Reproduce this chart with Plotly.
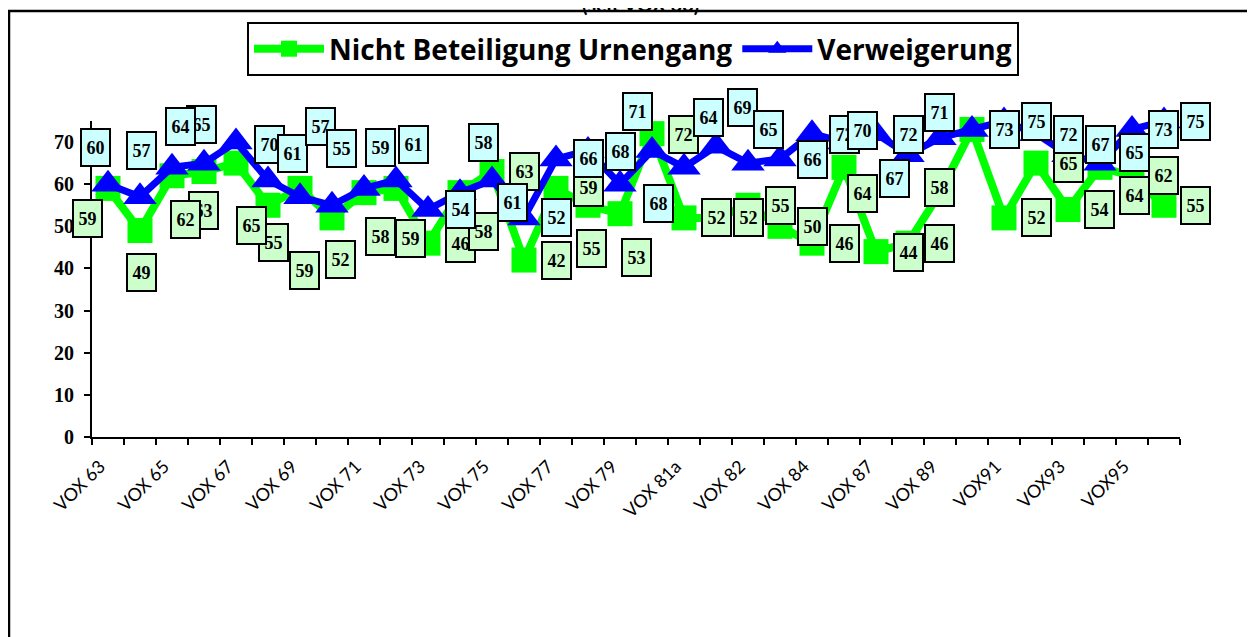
import plotly.graph_objects as go

# ---------------- data ----------------
TICK_LABELS = ["VOX 63", "VOX 65", "VOX 67", "VOX 69", "VOX 71", "VOX 73", "VOX 75",
               "VOX 77", "VOX 79", "VOX 81a", "VOX 82", "VOX 84", "VOX 87", "VOX 89",
               "VOX91", "VOX93", "VOX95"]
N_CATS = 34

GREEN_NAME = "Nicht Beteiligung Urnengang"
BLUE_NAME = "Verweigerung"

GREEN_VALUES = [59, 49, 62, 63, 65, 55, 59, 52, 58, 59, 46, 58, 63, 42, 59, 55, 53,
                72, 52, 52, 55, 50, 46, 64, 44, 46, 58, 73, 52, 65, 54, 64, 62, 55]
BLUE_VALUES = [60, 57, 64, 65, 70, 61, 57, 55, 59, 61, 54, 58, 61, 52, 66, 68, 60,
               68, 64, 69, 65, 66, 72, 70, 72, 67, 71, 73, 75, 72, 67, 65, 73, 75]

# data label texts as printed in the chart
GREEN_LABELS = ["59", "49", "62", "63", "65", "55", "59", "52", "58", "59", "46", "58",
                "63", "42", "59", "55", "53", "72", "52", "52", "55", "50", "46", "64",
                "44", "46", "58", None, "52", "65", "54", "64", "62", "55"]
BLUE_LABELS = ["60", "57", "64", "65", "70", "61", "57", "55", "59", "61", "54", "58",
               "61", "52", "66", "68", "71", "68", "64", "69", "65", "66", "72", "70",
               "72", "67", "71", "73", "75", "72", "67", "65", "73", "75"]

Y_MIN, Y_MAX = 0, 75

# ---------------- label placement (offsets from their point) ----------------
GREEN_DX = [-0.63, 0.06, 0.41, -0.02, 0.47, 0.16, 0.14, 0.25, 0.50, 0.45, 1.03, 0.72,
            1.03, 1.03, 1.00, 0.11, 0.52, 0.97, 1.00, 1.00, 1.00, 1.00, 1.00, 0.59,
            1.00, 0.97, -0.03, 0.0, 1.00, 1.00, 0.97, 1.09, 0.97, 0.97]
GREEN_DY = [-7.2, -9.9, -10.3, -9.2, -14.8, -8.8, -19.4, -9.8, -10.4, -11.8, 0.0, -9.3,
            0.0, -0.1, 0.1, -10.3, -10.5, -0.2, 0.0, 0.0, 0.0, 0.0, 0.0, -6.1,
            -0.2, -0.1, 1.1, 0.0, 0.0, -0.1, 0.0, -6.7, 0.0, 0.0]
BLUE_DX = [-0.39, 0.06, 0.25, -0.09, 1.05, 0.78, 0.63, 0.31, 0.50, 0.55, 1.02, 0.72,
           0.63, 1.03, 1.00, 1.02, 0.56, 0.19, 0.75, 0.84, 0.63, 1.00, 1.00, 0.59,
           1.00, -0.42, -0.03, 1.00, 1.00, 1.00, 1.03, 1.09, 0.97, 0.98]
BLUE_DY = [8.6, 11.1, 9.7, 9.2, -0.6, 6.2, 16.6, 13.4, 9.8, 8.5, 0.0, 11.8,
           -5.3, 0.0, 0.0, -0.2, 17.3, -12.5, 11.8, 9.1, 8.1, -0.1, -0.1, 2.7,
           -0.1, -5.7, 6.0, -0.1, -0.1, -0.2, 2.4, 2.5, -0.1, -0.1]
# drawing order of the labels (later ones lie on top)
GREEN_ORDER = [0, 1, 3, 2, 5, 4] + list(range(6, N_CATS))
BLUE_ORDER = [0, 1, 3, 2] + list(range(4, N_CATS))

GREEN = "#00FF00"
BLUE = "#0000FF"
GREEN_FILL = "#CCFFCC"
BLUE_FILL = "#CCFFFF"

# page offset of the figure inside the html body (default body margin)
PAGE_OFF = 8
PLOT_L, PLOT_R, PLOT_T, PLOT_B = 92, 1180, 121, 437   # plot area in page pixels
W, H = 1255, 637
PW, PH = PLOT_R - PLOT_L, PLOT_B - PLOT_T
X_MIN, X_MAX = -0.5, N_CATS - 0.5


def px_x(p):
    return (p - PLOT_L) / PW


def px_y(p):
    return (PLOT_B - p) / PH


def data_to_paper_x(v):
    return (v - X_MIN) / (X_MAX - X_MIN)


def data_to_paper_y(v):
    return (v - Y_MIN) / (Y_MAX - Y_MIN)


x = list(range(N_CATS))

fig = go.Figure()
fig.add_trace(go.Scatter(
    x=x, y=GREEN_VALUES, name=GREEN_NAME, mode="lines+markers",
    line=dict(color=GREEN, width=8),
    marker=dict(symbol="square", size=25, color=GREEN),
    cliponaxis=False,
))
fig.add_trace(go.Scatter(
    x=x, y=BLUE_VALUES, name=BLUE_NAME, mode="lines+markers",
    line=dict(color=BLUE, width=7),
    marker=dict(symbol="triangle-up", size=29, color=BLUE),
    cliponaxis=False,
))

annotations = []


def add_labels(values, labels, dxs, dys, order, fill):
    # labels may lie outside the axis ranges, so they are placed on the paper
    # by converting their data position through the axis ranges
    for i in order:
        if labels[i] is None:
            continue
        annotations.append(dict(
            x=data_to_paper_x(x[i] + dxs[i]), y=data_to_paper_y(values[i] + dys[i]),
            xref="paper", yref="paper",
            text="<b>" + labels[i] + "</b>", showarrow=False,
            xanchor="center", yanchor="middle",
            width=27, height=35, borderwidth=2, borderpad=0,
            bordercolor="#000000", bgcolor=fill,
            font=dict(family="Liberation Serif", size=18, color="#000000"),
        ))


add_labels(GREEN_VALUES, GREEN_LABELS, GREEN_DX, GREEN_DY, GREEN_ORDER, GREEN_FILL)
add_labels(BLUE_VALUES, BLUE_LABELS, BLUE_DX, BLUE_DY, BLUE_ORDER, BLUE_FILL)

# title, partly cut off at the top of the picture (as in the original)
annotations.append(dict(
    x=px_x(640), y=px_y(4), xref="paper", yref="paper", text="<b>(seit VOX 63)</b>",
    showarrow=False, xanchor="center", yanchor="middle",
    font=dict(family="Lato", size=20, color="#000000"),
))

fig.update_layout(
    width=W, height=H,
    margin=dict(l=PLOT_L - PAGE_OFF, r=W - PLOT_R + PAGE_OFF,
                t=PLOT_T - PAGE_OFF, b=H - PLOT_B + PAGE_OFF, autoexpand=False),
    paper_bgcolor="white", plot_bgcolor="white",
    showlegend=True,
    legend=dict(
        orientation="h", x=px_x(247), xanchor="left", y=px_y(22), yanchor="top",
        bordercolor="#000000", borderwidth=2, bgcolor="white",
        font=dict(family="Open Sans", size=28, color="#000000", weight="bold"),
        itemwidth=70, tracegroupgap=0,
    ),
    annotations=annotations,
    shapes=[dict(type="rect", xref="paper", yref="paper",
                 x0=px_x(9), x1=px_x(1290), y0=px_y(680), y1=px_y(11),
                 line=dict(color="#000000", width=2.5), layer="below")],
)

fig.update_xaxes(
    range=[X_MIN, X_MAX], showgrid=False, zeroline=False,
    showline=True, linecolor="#000000", linewidth=2,
    tickmode="array", tickvals=list(range(0, N_CATS, 2)), ticktext=TICK_LABELS,
    ticks="", tickangle=-45, ticklabelstandoff=10, ticklabelshift=-8,
    tickfont=dict(family="Lato", size=18, color="#000000"),
    minor=dict(tickmode="linear", tick0=-0.5, dtick=1, ticks="outside",
               ticklen=6, tickwidth=2, tickcolor="#000000"),
)
fig.update_yaxes(
    range=[Y_MIN, Y_MAX], showgrid=False, zeroline=False,
    showline=True, linecolor="#000000", linewidth=2,
    tickmode="linear", tick0=0, dtick=10,
    ticks="outside", ticklen=6, tickwidth=2, tickcolor="#000000",
    ticklabelstandoff=6,
    tickfont=dict(family="Liberation Serif", size=20, color="#000000", weight="bold"),
)

fig.write_html("out.html")
